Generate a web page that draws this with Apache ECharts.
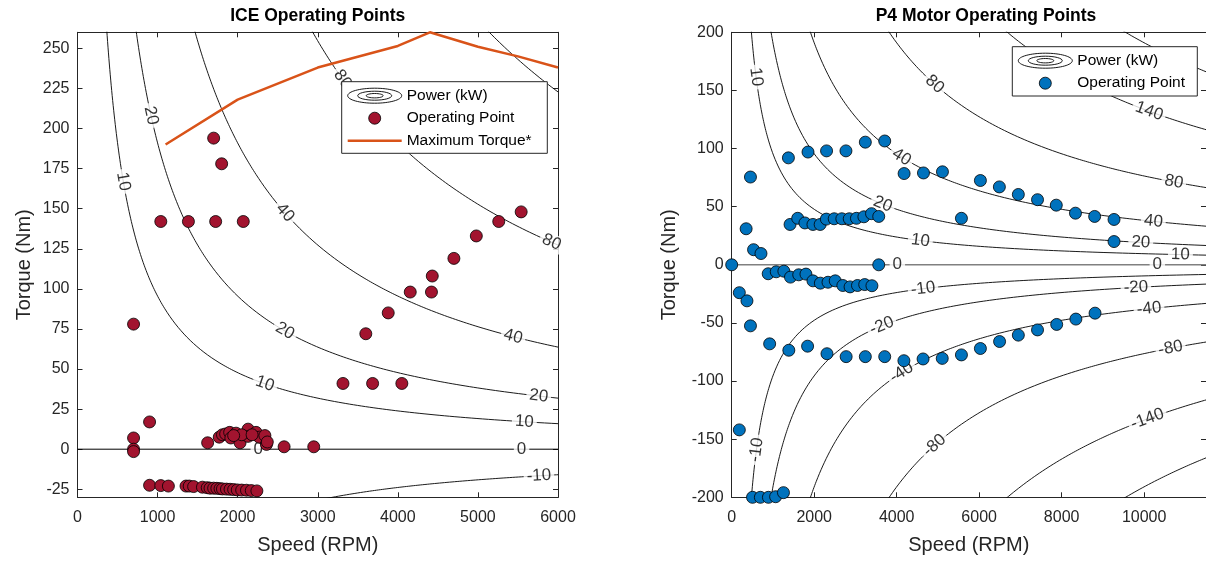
<!DOCTYPE html>
<html>
<head>
<meta charset="utf-8">
<script src="https://cdn.jsdelivr.net/npm/echarts@6/dist/echarts.min.js"></script>
<style>
html,body{margin:0;padding:0;background:#fff;}
#chart{width:1206px;height:561px;}
</style>
</head>
<body>
<div id="chart"></div>
<script>
// ---------------- DATA ----------------
// ICE operating points: [speed (RPM), torque (Nm)]
const iceOperatingPoints = [
  [1700,194],[1800,178],[1040,142],[1385,142],[1725,142],[2070,142],
  [5540,148],[5260,142],[4980,133],[4700,119],[4430,108],[4420,98],[4155,98],
  [3880,85],[3600,72],[700,78],[3315,41],[3685,41],[4050,41],
  [900,17],[700,7],[700,0],[700,-1.5],[1625,4],
  [1770,7.5],[1810,9],[1850,9.5],[1900,10.5],[1980,10],[1915,7],[2030,4],
  [2130,12.5],[2130,8],[2230,10.5],[2270,7.5],[2340,8.5],[2360,3],[2370,4.5],
  [2050,9],[2180,9],[1950,8.5],[2580,1.5],[2950,1.5],
  [900,-22.5],[1040,-22.7],[1135,-23],[1355,-23],[1395,-23],[1450,-23.3],
  [1560,-23.7],[1620,-24],[1655,-24.3],[1700,-24.3],[1740,-24.4],[1780,-24.6],
  [1810,-24.8],[1860,-24.9],[1905,-25],[1950,-25.2],[1995,-25.4],[2050,-25.5],
  [2110,-25.6],[2170,-25.8],[2240,-26]
];
// ICE maximum torque curve: [speed (RPM), torque (Nm)]
const iceMaxTorque = [
  [1100,190],[2000,218],[3000,238],[4000,251.5],[4400,260],[5000,251],[5500,245],[6000,238]
];
// P4 motor operating points: [speed (RPM), torque (Nm)]
const motorOperatingPoints = [
  [1375,92],[1850,97],[2300,98],[2770,98],[3240,105.5],[3710,106.5],
  [4180,78.5],[4650,79],[5110,80],[6030,72.5],[6490,67],[6950,60.5],[7415,56],
  [7870,51.3],[8335,44.4],[8800,41.6],[9270,39],[5570,40],[9270,20],
  [455,75.5],[350,31],[530,13],[710,9.7],[0,0],[3565,0],
  [1415,34.7],[1600,40],[1775,36],[1970,34.7],[2145,34.7],[2295,39.3],[2485,39.6],
  [2670,39.6],[2850,39.6],[3025,40],[3205,41.3],[3390,44],[3565,41.6],
  [885,-7.7],[1080,-6],[1265,-5.5],[1425,-10.6],[1625,-8.6],[1800,-8],[1970,-13.8],
  [2150,-15.8],[2335,-15],[2510,-13.8],[2695,-17.8],[2870,-19],[3050,-17.8],[3225,-17],[3400,-18],
  [185,-24],[370,-31],[455,-52.5],[920,-68],[1385,-73.5],[1840,-70],[2310,-76.5],
  [2775,-79],[3240,-79],[3710,-79],[4175,-82.5],[4640,-81],[5105,-80.5],[5570,-77.5],
  [6030,-72],[6495,-66],[6950,-60.5],[7415,-56],[7880,-51.3],[8345,-46.7],[8810,-41.6],
  [185,-142],
  [505,-200],[695,-200],[890,-200],[1065,-199.5],[1255,-196]
];
// Power contour levels (kW)
const iceLevels = [-10, 0, 10, 20, 40, 80, 140];
const motorLevels = [-200, -140, -80, -40, -20, -10, 0, 10, 20, 40, 80, 140, 200];
// Tick values
const iceXTicks = [0,1000,2000,3000,4000,5000,6000];
const iceYTicks = [-25,0,25,50,75,100,125,150,175,200,225,250];
const motorXTicks = [0,2000,4000,6000,8000,10000];
const motorYTicks = [-200,-150,-100,-50,0,50,100,150,200];

// ---------------- LAYOUT / STYLE ----------------
const ICE_X = [0, 6000], ICE_Y = [-30, 260];
const MOT_X = [0, 11500], MOT_Y = [-200, 200];
// where (speed, RPM) the inline contour labels sit
const iceLabelSpeeds = {'10':[572,2340,5580], '20':[918,2590,5760], '40':[2590,5440], '80':[3311,5920], '0':[2257,5545], '-10':[5762]};
const motorLabelSpeeds = {'10':[591,4575,10880], '20':[3663,9920], '40':[4119,10224], '80':[4920,10720], '140':[10120],
  '0':[4016,10320], '-10':[600,4640], '-20':[3640,9800], '-40':[4120,10120], '-80':[4920,10640], '-140':[10080]};

const FONT = 'Liberation Sans, Arial, Helvetica, sans-serif';
const AX = '#262626';
const ICE_RED = '#A2142F', MOT_BLUE = '#0072BD', ORANGE = '#D95319';

// iso-power curve: P[kW] = T[Nm] * n[rpm] * 2*pi/60 / 1000
function torqueAt(levelKW, n) { return levelKW * 60000 / (2 * Math.PI * n); }
function isoPowerLine(levelKW, xr, yr) {
  if (levelKW === 0) return [[xr[0], 0], [xr[1], 0]];
  const lim = levelKW > 0 ? yr[1] : -yr[0];
  const nStart = Math.abs(levelKW * 60000 / (2 * Math.PI)) / (lim * 1.05);
  const pts = [], N = 200;
  for (let i = 0; i <= N; i++) {
    const n = nStart * Math.pow(xr[1] / nStart, i / N);
    pts.push([n, torqueAt(levelKW, n)]);
  }
  return pts;
}

function makeAxes(g, xr, yr, xt, yt, yNameGap) {
  const common = {
    type: 'value', gridIndex: g, splitLine: {show: false},
    axisLine: {show: true, onZero: false, lineStyle: {color: AX, width: 1}},
  };
  const fmt = v => String(v);
  const xAxes = [
    Object.assign({}, common, {min: xr[0], max: xr[1], position: 'bottom',
      axisTick: {show: true, inside: true, length: 5, customValues: xt, lineStyle: {color: AX}},
      axisLabel: {show: true, customValues: xt, formatter: fmt, color: AX, fontSize: 16, margin: 12, fontFamily: FONT},
      name: 'Speed (RPM)', nameLocation: 'middle', nameGap: 38,
      nameTextStyle: {fontSize: 20, color: AX, fontFamily: FONT}}),
    Object.assign({}, common, {min: xr[0], max: xr[1], position: 'top',
      axisTick: {show: true, inside: true, length: 5, customValues: xt, lineStyle: {color: AX}},
      axisLabel: {show: false, customValues: xt}})
  ];
  const yAxes = [
    Object.assign({}, common, {min: yr[0], max: yr[1], position: 'left',
      axisTick: {show: true, inside: true, length: 5, customValues: yt, lineStyle: {color: AX}},
      axisLabel: {show: true, customValues: yt, formatter: fmt, color: AX, fontSize: 16, margin: 8, fontFamily: FONT},
      name: 'Torque (Nm)', nameLocation: 'middle', nameGap: yNameGap,
      nameTextStyle: {fontSize: 20, color: AX, fontFamily: FONT}}),
    Object.assign({}, common, {min: yr[0], max: yr[1], position: 'right',
      axisTick: {show: true, inside: true, length: 5, customValues: yt, lineStyle: {color: AX}},
      axisLabel: {show: false, customValues: yt}})
  ];
  return {xAxes, yAxes};
}

const a0 = makeAxes(0, ICE_X, ICE_Y, iceXTicks, iceYTicks, 43);
const a1 = makeAxes(1, MOT_X, MOT_Y, motorXTicks, motorYTicks, 52);

function contourSeries(levels, xr, yr, xi, yi, zeroColor, zeroWidth) {
  return levels.map(L => ({
    type: 'line', xAxisIndex: xi, yAxisIndex: yi, data: isoPowerLine(L, xr, yr),
    showSymbol: false, symbol: 'none', smooth: false, clip: true, silent: true, z: 2,
    lineStyle: {color: L === 0 ? zeroColor : '#000', width: L === 0 ? zeroWidth : 0.9},
    emphasis: {disabled: true}, animation: false
  }));
}

const chart = echarts.init(document.getElementById('chart'), null, {renderer: 'canvas'});

function labelSeries(labelSpeeds, xi, yi, gi, rotations) {
  const data = [];
  Object.keys(labelSpeeds).forEach(k => {
    const L = Number(k);
    labelSpeeds[k].forEach(n => {
      const y = L === 0 ? 0 : torqueAt(L, n);
      const rot = rotations ? rotations(L, n, gi) : 0;
      data.push({value: [n, y], name: k, label: {rotate: rot}});
    });
  });
  return {
    type: 'scatter', xAxisIndex: xi, yAxisIndex: yi, data: data, symbolSize: 1, z: 3,
    itemStyle: {color: 'rgba(0,0,0,0)'}, silent: true, clip: true,
    label: {show: true, position: 'inside', formatter: p => p.name, color: '#000', fontSize: 17,
      fontFamily: FONT, backgroundColor: '#fff', padding: [0, 3]},
    emphasis: {disabled: true}, animation: false
  };
}

function rotationFn(L, n, gi) {
  if (L === 0) return 0;
  const p1 = chart.convertToPixel({gridIndex: gi}, [n * 0.97, torqueAt(L, n * 0.97)]);
  const p2 = chart.convertToPixel({gridIndex: gi}, [n * 1.03, torqueAt(L, n * 1.03)]);
  return -Math.atan2(p2[1] - p1[1], p2[0] - p1[0]) * 180 / Math.PI;
}

function legendGraphics(box, markerColor, withLine) {
  const els = [];
  const cx = box.x + 33, tx = box.x + 65;
  els.push({type: 'rect', shape: {x: box.x, y: box.y, width: box.w, height: box.h},
    style: {fill: '#fff', stroke: AX, lineWidth: 1}, z: 100});
  const r1 = box.y + 14;
  [[27, 7.5], [17, 4.5], [8.5, 2.2]].forEach(r => {
    els.push({type: 'ellipse', shape: {cx: cx, cy: r1, rx: r[0], ry: r[1]},
      style: {fill: 'none', stroke: '#000', lineWidth: 0.9}, z: 101});
  });
  els.push({type: 'text', x: tx, y: r1, style: {text: 'Power (kW)', fill: '#000', font: '15.5px ' + FONT, textVerticalAlign: 'middle'}, z: 101});
  const r2 = box.y + 36.5;
  els.push({type: 'circle', shape: {cx: cx, cy: r2, r: 6}, style: {fill: markerColor, stroke: '#000', lineWidth: 0.8}, z: 101});
  els.push({type: 'text', x: tx, y: r2, style: {text: 'Operating Point', fill: '#000', font: '15.5px ' + FONT, textVerticalAlign: 'middle'}, z: 101});
  if (withLine) {
    const r3 = box.y + 59;
    els.push({type: 'line', shape: {x1: box.x + 6, y1: r3, x2: box.x + 60, y2: r3}, style: {stroke: ORANGE, lineWidth: 2.5}, z: 101});
    els.push({type: 'text', x: tx, y: r3, style: {text: 'Maximum Torque*', fill: '#000', font: '15.5px ' + FONT, textVerticalAlign: 'middle'}, z: 101});
  }
  return els;
}

const titles = [
  {type: 'text', x: 317.7, y: 16, style: {text: 'ICE Operating Points', fill: '#000', font: 'bold 17.5px ' + FONT, textAlign: 'center', textVerticalAlign: 'middle'}},
  {type: 'text', x: 986, y: 16, style: {text: 'P4 Motor Operating Points', fill: '#000', font: 'bold 17.5px ' + FONT, textAlign: 'center', textVerticalAlign: 'middle'}}
];

function buildOption(withRot) {
  return {
    animation: false,
    backgroundColor: '#fff',
    textStyle: {fontFamily: FONT},
    grid: [
      {left: 77.5, top: 32.3, width: 480.5, height: 465, show: false},
      {left: 731.7, top: 32.3, width: 479.2, height: 465, show: false}
    ],
    xAxis: a0.xAxes.concat(a1.xAxes),
    yAxis: a0.yAxes.concat(a1.yAxes),
    graphic: {elements: titles
      .concat(legendGraphics({x: 341.7, y: 81.7, w: 205.6, h: 71.6}, ICE_RED, true))
      .concat(legendGraphics({x: 1012.3, y: 46.7, w: 185, h: 49.3}, MOT_BLUE, false))},
    series: [].concat(
      contourSeries(iceLevels, ICE_X, ICE_Y, 0, 0, '#000', 1),
      contourSeries(motorLevels, MOT_X, MOT_Y, 2, 2, '#808080', 1.6),
      [labelSeries(iceLabelSpeeds, 0, 0, 0, withRot ? rotationFn : null),
       labelSeries(motorLabelSpeeds, 2, 2, 1, withRot ? rotationFn : null),
       {type: 'line', xAxisIndex: 0, yAxisIndex: 0, data: iceMaxTorque, showSymbol: false, symbol: 'none',
        lineStyle: {color: ORANGE, width: 2.5}, z: 4, silent: true, emphasis: {disabled: true}},
       {type: 'scatter', xAxisIndex: 0, yAxisIndex: 0, data: iceOperatingPoints, symbolSize: 12, z: 5,
        itemStyle: {color: ICE_RED, borderColor: '#000', borderWidth: 0.8, opacity: 1}, emphasis: {disabled: true}},
       {type: 'scatter', xAxisIndex: 2, yAxisIndex: 2, data: motorOperatingPoints, symbolSize: 12, z: 5,
        itemStyle: {color: MOT_BLUE, borderColor: '#000', borderWidth: 0.8, opacity: 1}, emphasis: {disabled: true}}]
    )
  };
}

chart.setOption(buildOption(false));
chart.setOption(buildOption(true), {notMerge: true});
</script>
</body>
</html>
